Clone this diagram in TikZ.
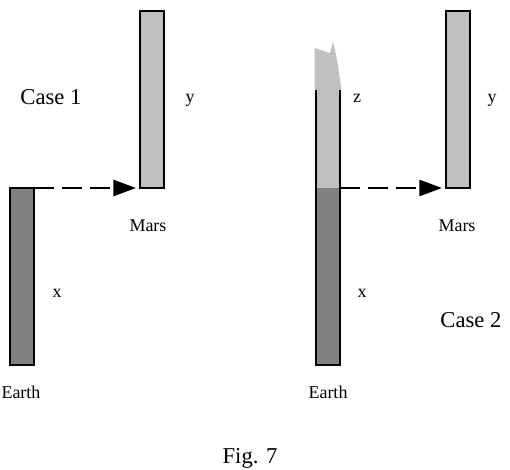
\documentclass[tikz,border=0pt]{standalone}
\usepackage{fontspec}
\setmainfont{Liberation Serif}
\usetikzlibrary{arrows.meta}
\definecolor{bardark}{RGB}{128,128,128}
\definecolor{barlight}{RGB}{192,192,192}
\tikzset{
  darkbar/.style={draw=black, line width=2.2pt, fill=bardark, minimum width=18pt, minimum height=132.75pt, inner sep=0pt, outer sep=0pt},
  lightbar/.style={draw=black, line width=2.2pt, fill=barlight, minimum width=18pt, minimum height=132.75pt, inner sep=0pt, outer sep=0pt},
  outline/.style={draw=black, line width=2.2pt},
  travel/.style={line width=2pt, dash pattern=on 15pt off 6pt, -{Triangle[length=17pt, width=12pt]}, shorten >=3pt},
  smalltxt/.style={font=\fontsize{13.5pt}{16pt}\selectfont, inner sep=0pt},
  bigtxt/.style={font=\fontsize{17pt}{20pt}\selectfont, inner sep=0pt}
}
\begin{document}
\begin{tikzpicture}[x=0.75pt,y=0.75pt,yscale=-1,xscale=1]
\useasboundingbox (0,0) rectangle (510,470);

% Case 1
\node[darkbar] (earth1) at (22,276.5) {};
\node[lightbar] (mars1) at (152,99.5) {};
\draw[travel] (earth1.north east) -- (mars1.south west);

% Case 2
\node[fill=bardark, minimum width=18pt, minimum height=132.75pt, inner sep=0pt, outer sep=0pt] (earth2) at (328,276.5) {};
\node[fill=barlight, minimum width=18pt, minimum height=73.5pt, inner sep=0pt, outer sep=0pt] (zbar) at (328,139) {};
\fill[barlight] (314.5,90) -- (314.5,48) -- (330,53) -- (333,42) .. controls (337,58) .. (341.5,90) -- cycle;
\draw[outline] (zbar.north west) -- (earth2.south west) -- (earth2.south east) -- (zbar.north east);
\node[lightbar] (mars2) at (458,99.5) {};
\draw[travel] (zbar.south east) -- (mars2.south west);

% Text Node
\node[bigtxt] (case1) at (51,97) {Case 1};
\node[smalltxt] (y1) at (190,100) {y};
\node[smalltxt] (marslbl1) at (148,226) {Mars};
\node[smalltxt] (x1) at (57,293) {x};
\node[smalltxt] (earthlbl1) at (21,392) {Earth};
\node[smalltxt] (z2) at (357,98) {z};
\node[smalltxt] (y2) at (492,100) {y};
\node[smalltxt] (marslbl2) at (457,226) {Mars};
\node[smalltxt] (x2) at (362,293) {x};
\node[bigtxt] (case2) at (471,320) {Case 2};
\node[smalltxt] (earthlbl2) at (328,392) {Earth};
\node[bigtxt] (figlbl) at (250,458) {Fig. 7};

\end{tikzpicture}
\end{document}
